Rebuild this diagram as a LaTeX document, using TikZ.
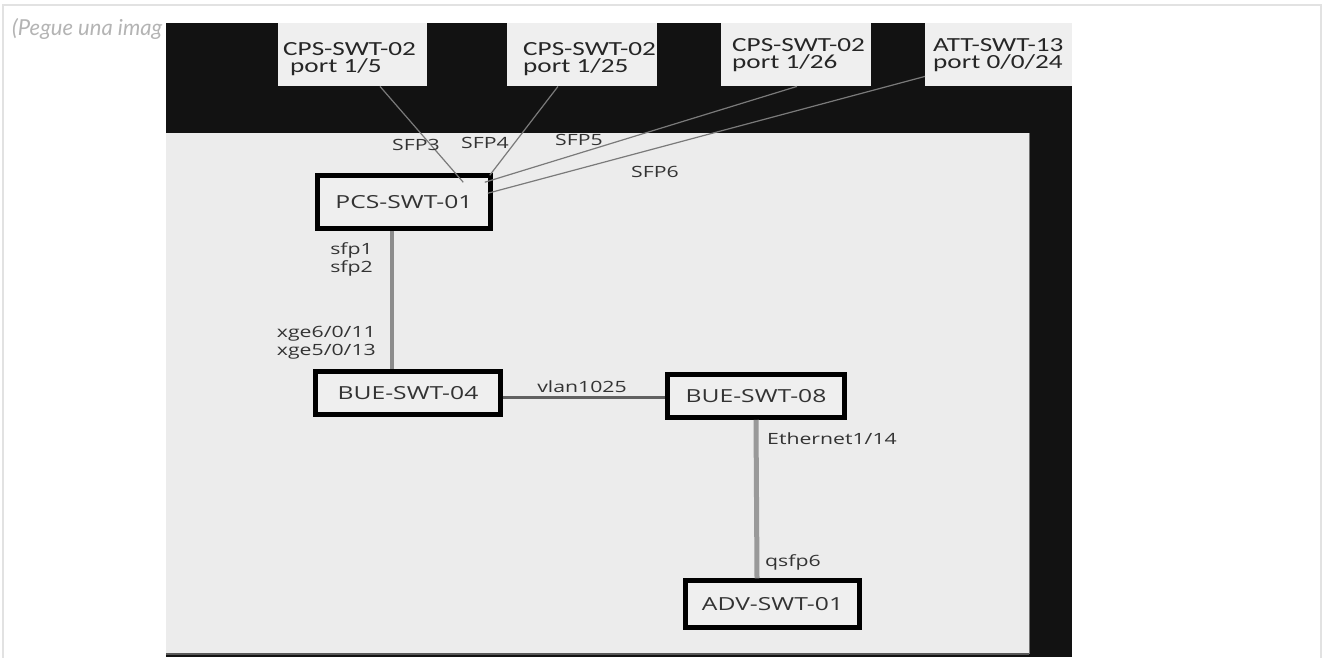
\documentclass[tikz,border=0pt]{standalone}
\usepackage{fontspec}
\usetikzlibrary{calc}
\newfontfamily\dfont[FakeStretch=1.37]{Open Sans}
\newfontfamily\cfont[FakeStretch=1.36]{Carlito}
\newfontfamily\lfont{Lato}
\definecolor{framegray}{HTML}{E2E2E2}
\definecolor{hintgray}{HTML}{B4B4B4}
\definecolor{imgblack}{HTML}{121212}
\definecolor{imggray}{HTML}{ECECEC}
\definecolor{boxfill}{HTML}{EFEFEF}
\definecolor{txt}{HTML}{333333}
\definecolor{thinline}{HTML}{7A7A7A}
\tikzset{
  topbox/.style={rectangle, fill=boxfill, draw=none, anchor=north west, inner sep=0pt},
  toptext/.style={anchor=north west, inner sep=0pt, text=black!85, align=left,
    font=\cfont\fontsize{20}{17.5}\selectfont},
  swbox/.style={rectangle, draw=black, line width=4.5pt, fill=boxfill, text=txt,
    inner sep=0pt, font=\dfont\fontsize{18}{20}\selectfont},
  portlbl/.style={inner sep=0pt, text=txt, font=\dfont\fontsize{15.5}{18}\selectfont},
  thin/.style={draw=thinline, line width=1.2pt},
}
\begin{document}
\begin{tikzpicture}[x=1pt,y=-1pt]
\useasboundingbox (0,0) rectangle (1324,657);
\fill[white] (0,0) rectangle (1324,657);
% outer frame of the page
\draw[framegray, line width=2pt] (3,670) -- (3,5) -- (1321,5) -- (1321,670);
\node[anchor=base west, inner sep=0pt, text=hintgray, font=\lfont\itshape\fontsize{22}{24}\selectfont] (hint) at (12,35) {(Pegue una imag};
% pasted image
\fill[imgblack] (166,23) rectangle (1072,657);
\fill[imggray] (166,133) rectangle (1029,654);
\draw[black!55, line width=0.8pt] (1029,133) -- (1029,654);
\draw[black!65, line width=1.5pt] (166,654) -- (1029,654);
% top port boxes
\node[topbox, minimum width=149pt, minimum height=63pt] (c1) at (278,23) {};
\node[topbox, minimum width=150pt, minimum height=63pt] (c2) at (507,23) {};
\node[topbox, minimum width=150pt, minimum height=63pt] (c3) at (721,23) {};
\node[topbox, minimum width=147pt, minimum height=63pt] (c4) at (925,23) {};
\node[toptext] (c1t) at (283,42) {CPS-SWT-02\\\hspace{7pt}port 1/5};
\node[toptext] (c2t) at (523,42) {CPS-SWT-02\\port 1/25};
\node[toptext] (c3t) at (732,38) {CPS-SWT-02\\port 1/26};
\node[toptext] (c4t) at (933,38) {ATT-SWT-13\\port 0/0/24};
% switches
\node[swbox, minimum width=173pt, minimum height=53pt] (pcs) at (404,202) {PCS-SWT-01};
\node[swbox, minimum width=185pt, minimum height=43pt] (bue4) at (408,393) {BUE-SWT-04};
\node[swbox, minimum width=177pt, minimum height=43pt] (bue8) at (756,396) {BUE-SWT-08\hspace{8pt}};
\node[swbox, minimum width=174pt, minimum height=47pt] (adv) at (772.5,604) {ADV-SWT-01};
% thick links
\draw[draw=black!45, line width=4pt] ($(pcs.south)+(-12,0)$) -- ($(bue4.north)+(-16,0)$);
\draw[draw=black!62, line width=3pt] ($(bue4.east)+(0,4)$) -- ($(bue8.west)+(0,1)$);
\draw[draw=black!40, line width=5pt] (bue8.south) -- ($(adv.north)+(-15.5,0)$);
% thin uplinks
\draw[thin] ($(c1.south west)+(102,0)$) -- ($(pcs.north west)+(148,9)$);
\draw[thin] ($(c2.south west)+(51,0)$) -- ($(pcs.north east)+(-3,2)$);
\draw[thin] ($(c3.south west)+(76,0)$) -- ($(pcs.north east)+(-8,9)$);
\draw[thin] ($(c4.south west)+(0,-10)$) -- ($(pcs.north east)+(-5,20)$);
% port labels
\node[portlbl] (sfp3) at (416,145) {SFP3};
\node[portlbl] (sfp4) at (485,143) {SFP4};
\node[portlbl] (sfp5) at (579,140) {SFP5};
\node[portlbl] (sfp6) at (655,172) {SFP6};
\node[portlbl, anchor=east, align=right] (sfp12) at (373,259) {sfp1\\sfp2};
\node[portlbl, anchor=east, align=right] (xge) at (376,343) {xge6/0/11\\xge5/0/13};
\node[portlbl] (vlan) at (582,387) {vlan1025};
\node[portlbl, anchor=west] (eth) at (767,439) {Ethernet1/14};
\node[portlbl, anchor=west] (qsfp) at (765,562) {qsfp6};
\end{tikzpicture}
\end{document}
